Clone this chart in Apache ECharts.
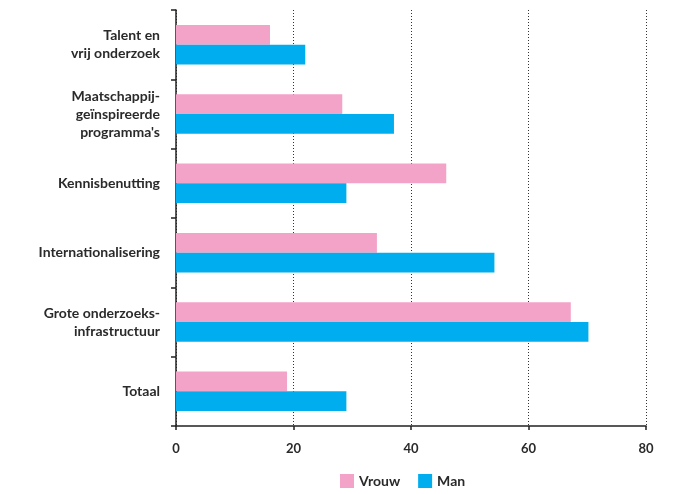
<!DOCTYPE html>
<html>
<head>
<meta charset="utf-8">
<script src="https://cdn.jsdelivr.net/npm/echarts@6/dist/echarts.min.js"></script>
<style>html,body{margin:0;padding:0;background:#fff}#c{width:689px;height:494px}</style>
</head>
<body>
<div id="c"></div>
<script>
var categories = ["Talent en\nvrij onderzoek", "Maatschappij-\ngeïnspireerde\nprogramma's", "Kennisbenutting", "Internationalisering", "Grote onderzoeks-\ninfrastructuur", "Totaal"];
var vrouw = [16, 28.3, 46, 34.2, 67.2, 18.9];
var man = [22, 37.1, 29, 54.2, 70.2, 29];
var xTicks = [0, 20, 40, 60, 80];

var chart = echarts.init(document.getElementById('c'));
var font = 'Lato, "Open Sans", sans-serif';
chart.setOption({
  animation: false,
  backgroundColor: '#fff',
  grid: {left: 176, right: 43, top: 10, bottom: 68, containLabel: false},
  legend: {
    data: ['Vrouw', 'Man'],
    left: 335, bottom: 1,
    itemWidth: 14, itemHeight: 14, itemGap: 18,
    icon: 'rect',
    textStyle: {fontFamily: font, fontSize: 14, fontWeight: 'bold', color: '#2a2a2a'}
  },
  xAxis: {
    type: 'value', min: xTicks[0], max: xTicks[xTicks.length - 1], interval: 20,
    axisLine: {show: true, lineStyle: {color: '#222', width: 1.5}},
    axisTick: {show: true, length: 4, lineStyle: {color: '#222', width: 1.5}},
    axisLabel: {margin: 16, fontFamily: font, fontSize: 13, fontWeight: 'bold', color: '#2a2a2a'},
    splitLine: {show: true, lineStyle: {color: '#333', type: [1, 2], width: 1}}
  },
  yAxis: {
    type: 'category', data: categories, inverse: true,
    axisLine: {show: true, lineStyle: {color: '#222', width: 1.5}},
    axisTick: {show: true, length: 5, lineStyle: {color: '#222', width: 1.5}},
    axisLabel: {margin: 16, fontFamily: font, fontSize: 14, fontWeight: 'bold', color: '#2a2a2a', lineHeight: 18, align: 'right'}
  },
  series: [
    {name: 'Vrouw', type: 'bar', data: vrouw, itemStyle: {color: '#F4A3C8'}, barGap: '0%', barCategoryGap: '43%'},
    {name: 'Man', type: 'bar', data: man, itemStyle: {color: '#00AEEF'}, barGap: '0%', barCategoryGap: '43%'}
  ]
});
</script>
</body>
</html>
